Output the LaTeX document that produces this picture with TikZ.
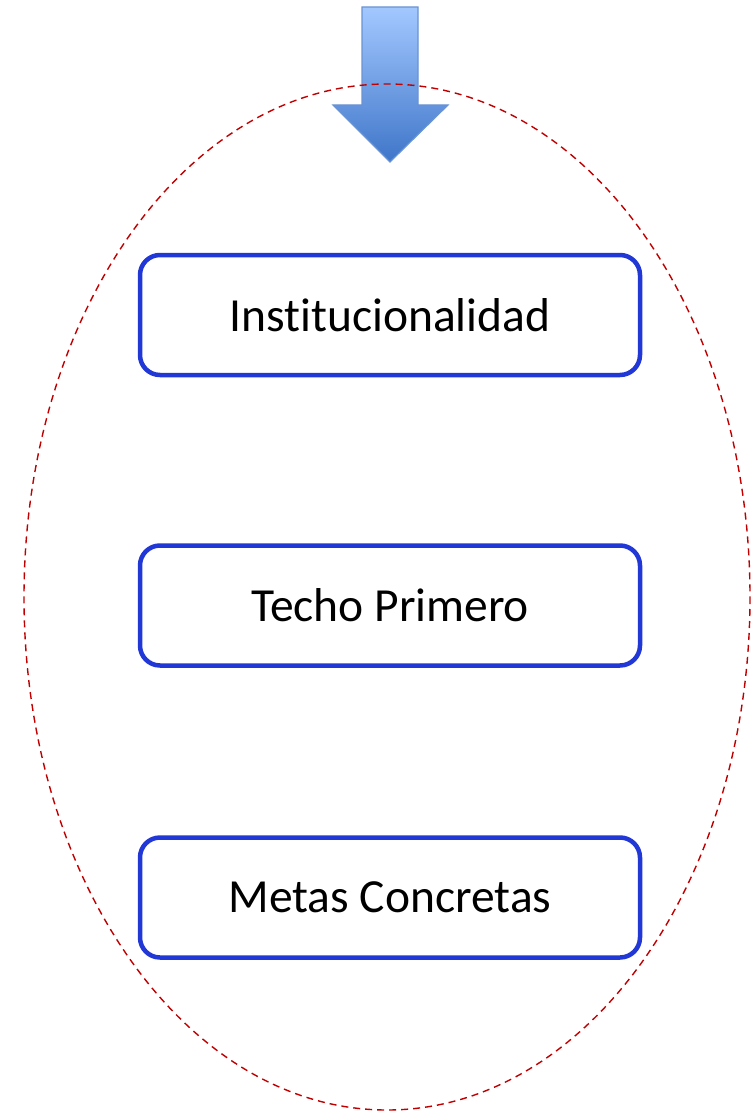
\documentclass[tikz,border=0pt]{standalone}
\usepackage{fontspec}
\setmainfont[Ligatures=NoCommon]{Carlito}
\definecolor{boxblue}{HTML}{2137D6}
\definecolor{ringred}{HTML}{C00000}
\definecolor{arrowtop}{HTML}{A3C8FF}
\definecolor{arrowbot}{HTML}{3F76C9}
\definecolor{arrowline}{HTML}{6A93D3}
\tikzset{
  stagebox/.style={draw=boxblue, line width=4.5pt, rounded corners=20pt,
    minimum width=500pt, minimum height=120pt, fill=white,
    font=\fontsize{47.5}{56}\selectfont},
}
\begin{document}
\begin{tikzpicture}[x=1pt,y=-1pt]
\useasboundingbox (0,0) rectangle (752,1113);

% arrow into the ring
\draw[arrowline, line width=1.2pt, top color=arrowtop, bottom color=arrowbot]
  (362,7) -- (418,7) -- (418,105) -- (448,105) -- (390,162)
  -- (333,105) -- (362,105) -- cycle;

% dashed ring
\draw[ringred, line width=1.4pt, dash pattern=on 7pt off 5pt] (387,597) ellipse [x radius=363, y radius=513];

\node[stagebox] (inst) at (390,315) {Institucionalidad};
\node[stagebox] (techo) at (390,605.5) {Techo Primero};
\node[stagebox] (metas) at (390,897.5) {Metas Concretas};
\end{tikzpicture}
\end{document}
